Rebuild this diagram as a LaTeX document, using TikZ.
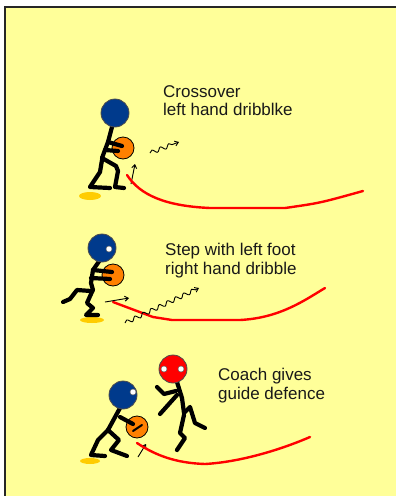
\documentclass[tikz,border=0pt]{standalone}
\usepackage{fontspec}
\setmainfont{Liberation Sans}
\usetikzlibrary{arrows.meta,decorations.pathmorphing}
\definecolor{pagebg}{HTML}{FFFF99}
\definecolor{shirtblue}{HTML}{003A8C}
\definecolor{ballorange}{HTML}{FF8000}
\definecolor{padgold}{HTML}{FFCC00}
\tikzset{
  stickline/.style={line width=4.2pt, line cap=round, line join=round},
  playerhead/.style={circle, draw=black!70, line width=0.8pt, minimum size=28pt, inner sep=0pt},
  playereye/.style={circle, fill=white, draw=black!60, line width=0.5pt, minimum size=6pt, inner sep=0pt},
  ballnode/.style={circle, fill=ballorange, draw=black, line width=0.8pt, minimum size=22pt, inner sep=0pt},
  padshadow/.style={fill=padgold},
  runline/.style={red, line width=2.4pt, line cap=round},
  movearrow/.style={-{Straight Barb[length=3.5pt,width=5pt]}, line width=0.9pt},
  wavearrow/.style={movearrow, decorate,
    decoration={snake, amplitude=2pt, segment length=9pt, post length=4pt}},
  cuetext/.style={anchor=north west, align=left, inner sep=0pt,
    font=\fontsize{17}{18.5}\selectfont, text=black!90}
}

\begin{document}
\begin{tikzpicture}[x=1pt, y=-1pt]
    \useasboundingbox (0,0) rectangle (396,496);
    \fill[white] (0,0) rectangle (396,496);
    \fill[pagebg] (5,6) rectangle (396,496);
    \draw[line width=2pt, black!85] (5,496) -- (5,6.5) -- (396,6.5);

    % crossover
    \fill[padshadow] (90,196) ellipse (11 and 4);
    \node[ballnode] (ball1) at (123,148) {};
    \draw[stickline] (112,127) -- (108,142) -- (102,158);
    \draw[stickline] (108,142) -- (122,146);
    \draw[stickline] (105,150) -- (118,151);
    \draw[stickline] (102,158) -- (116,166) -- (118,171) -- (115,187) -- (124,188);
    \draw[stickline] (102,160) -- (100,172) -- (90,187) -- (110,188);
    \node[playerhead, fill=shirtblue] (head1) at (115,113) {};
    \coordinate (up1a) at (131,184);
    \coordinate (up1b) at (135,164);
    \coordinate (wave1a) at (150,153);
    \coordinate (wave1b) at (179,142);
    \draw[movearrow] (up1a) -- (up1b);
    \draw[wavearrow] (wave1a) -- (wave1b);
    \draw[runline] (127,175) .. controls (140,195) and (165,206) .. (210,208)
        -- (285,208) .. controls (320,203) .. (363,191);
    \node[cuetext] (crossover) at (163,85) {Crossover\\left hand dribblke};

    % step with left foot
    \fill[padshadow] (92,320) ellipse (12 and 3);
    \node[ballnode] (ball2) at (113,275) {};
    \draw[stickline] (100,260) -- (93,270) -- (91,283) -- (93,290) -- (91,294);
    \draw[stickline] (93,270) -- (112,272);
    \draw[stickline] (91,278) -- (110,279);
    \draw[stickline] (91,291) -- (77,290) -- (70,299) -- (63,302);
    \draw[stickline] (91,294) -- (87,303) -- (93,308) -- (86,315) -- (98,315);
    \node[playerhead, fill=shirtblue] (head2) at (102,248) {};
    \node[playereye] (eye2) at (109,249) {};
    \coordinate (step2a) at (105,302);
    \coordinate (step2b) at (129,298);
    \coordinate (wave2a) at (125,323);
    \coordinate (wave2b) at (199,288);
    \draw[runline] (113,302) -- (153,317) -- (172,320) -- (240,320)
        .. controls (280,318) and (305,300) .. (325,288);
    \draw[movearrow] (step2a) -- (step2b);
    \draw[wavearrow] (wave2a) -- (wave2b);
    \node[cuetext] (stepleft) at (165,243) {Step with left foot\\right hand dribble};

    % coach in defence
    \fill[padshadow] (90,461) ellipse (10 and 3);
    \node[ballnode] (ball3) at (137,427) {};
    \draw[stickline] (120,408) -- (108,430);
    \draw[stickline] (120,417) -- (133,424);
    \draw[line width=2pt, line cap=round] (133,431) -- (142,425);
    \draw[stickline] (108,430) -- (98,440) -- (91,455) -- (105,456);
    \draw[stickline] (108,430) -- (119,440) -- (111,450) -- (127,456);
    \node[playerhead, fill=shirtblue] (head3) at (123,395) {};
    \node[playereye] (eye3) at (133,392) {};
    \draw[stickline] (177,382) -- (182,398) -- (184,413);
    \draw[stickline] (157,387) -- (164,394) -- (176,391);
    \draw[stickline] (177,395) -- (160,414);
    \draw[stickline] (184,413) -- (190,407) -- (195,423) -- (205,428);
    \draw[stickline] (184,415) -- (180,433) -- (185,438) -- (177,450);
    \node[playerhead, fill=red] (coachhead) at (173,369) {};
    \node[playereye] (coacheyel) at (164,369) {};
    \node[playereye] (coacheyer) at (181,369) {};
    \coordinate (up3a) at (138,457);
    \coordinate (up3b) at (146,444);
    \draw[movearrow] (up3a) -- (up3b);
    \draw[runline] (137,443) .. controls (155,455) and (175,463) .. (205,464)
        .. controls (240,462) and (280,450) .. (310,437);
    \node[cuetext] (coachgives) at (218,368) {Coach gives\\guide defence};
\end{tikzpicture}
\end{document}
